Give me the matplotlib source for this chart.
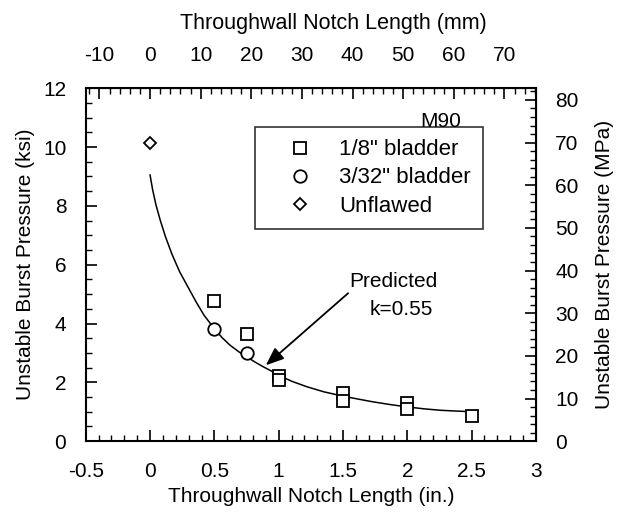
import matplotlib
matplotlib.use("Agg")
import matplotlib.pyplot as plt
from matplotlib.ticker import MultipleLocator, FixedLocator
import numpy as np

plt.rcParams['font.family'] = ['Liberation Sans', 'DejaVu Sans']
plt.rcParams['axes.unicode_minus'] = False

# Data (inches, ksi)
sq_x = [0.5, 0.75, 1.0, 1.0, 1.5, 1.5, 2.0, 2.0, 2.5]
sq_y = [4.78, 3.66, 2.22, 2.08, 1.63, 1.38, 1.29, 1.10, 0.85]
ci_x = [0.5, 0.75]
ci_y = [3.80, 3.00]
un_x = [0.0]
un_y = [10.15]
# predicted curve (k=0.55)
pr_x = [0.0, 0.02, 0.045, 0.08, 0.12, 0.17, 0.23, 0.30, 0.36, 0.42, 0.49, 0.56, 0.62, 0.69, 0.75, 0.82,
        0.88, 0.95, 1.01, 1.10, 1.22, 1.35, 1.50, 1.62, 1.73, 1.86, 1.99, 2.13, 2.26, 2.40, 2.52]
pr_y = [9.05, 8.55, 8.05, 7.50, 6.95, 6.36, 5.76, 5.20, 4.72, 4.28, 3.88, 3.52, 3.27, 3.04, 2.87, 2.68,
        2.53, 2.37, 2.22, 2.04, 1.85, 1.68, 1.53, 1.43, 1.34, 1.25, 1.17, 1.10, 1.05, 1.02, 1.00]

mm_ticks = [-10, 0, 10, 20, 30, 40, 50, 60, 70]
mpa_ticks = [0, 10, 20, 30, 40, 50, 60, 70, 80]
x_ticks = [-0.5, 0, 0.5, 1, 1.5, 2, 2.5, 3]
x_labels = ['-0.5', '0', '0.5', '1', '1.5', '2', '2.5', '3']

KSI2MPA = 6.894757
FS = 15

fig = plt.figure(figsize=(6.26, 5.13), dpi=100)
ax = fig.add_axes([0.137, 0.140, 0.719, 0.688])

ax.plot(pr_x, pr_y, color='black', lw=1.1)
mk = dict(linestyle='none', markerfacecolor='white', markeredgecolor='black', markeredgewidth=1.3)
ax.plot(sq_x, sq_y, marker='s', markersize=9, label='1/8" bladder', **mk)
ax.plot(ci_x, ci_y, marker='o', markersize=9, label='3/32" bladder', **mk)
ax.plot(un_x, un_y, marker='D', markersize=6, label='Unflawed', **mk)

ax.set_xlim(-0.5, 3)
ax.set_ylim(0, 12)
ax.xaxis.set_minor_locator(MultipleLocator(0.1))
ax.yaxis.set_major_locator(MultipleLocator(2))
ax.yaxis.set_minor_locator(MultipleLocator(0.5))
ax.set_xticks(x_ticks)
ax.set_xticklabels(x_labels)
ax.tick_params(which='major', direction='in', length=8, width=1.2, labelsize=FS)
ax.tick_params(which='minor', direction='in', length=4, width=1.0)
ax.tick_params(axis='x', which='major', pad=15)
ax.tick_params(axis='y', which='major', pad=14)
for s in ax.spines.values():
    s.set_linewidth(1.5)

ax.set_xlabel('Throughwall Notch Length (in.)', fontsize=FS, labelpad=4)
ax.set_ylabel('Unstable Burst Pressure (ksi)', fontsize=FS, labelpad=6)

# top axis (mm)
top = ax.secondary_xaxis('top', functions=(lambda x: x * 25.4, lambda m: m / 25.4))
top.xaxis.set_major_locator(FixedLocator(mm_ticks))
top.xaxis.set_minor_locator(MultipleLocator(2))
top.tick_params(which='major', direction='in', length=8, width=1.2, labelsize=FS, pad=17)
top.tick_params(which='minor', direction='in', length=4, width=1.0)
top.set_xlabel('Throughwall Notch Length (mm)', fontsize=15.5, labelpad=12)
top.xaxis.label.set_x(0.55)

# right axis (MPa)
right = ax.secondary_yaxis('right', functions=(lambda k: k * KSI2MPA, lambda p: p / KSI2MPA))
right.yaxis.set_major_locator(FixedLocator(mpa_ticks))
right.yaxis.set_minor_locator(MultipleLocator(2))
right.tick_params(which='major', direction='in', length=8, width=1.2, labelsize=FS, pad=14)
right.tick_params(which='minor', direction='in', length=4, width=1.0)
right.set_ylabel('Unstable Burst Pressure (MPa)', fontsize=FS, labelpad=12)

leg = ax.legend(loc='upper left', bbox_to_anchor=(0.375, 0.89),
                fontsize=16, frameon=True, fancybox=False, edgecolor='black',
                handlelength=3.0, handletextpad=0.25, borderpad=0.55, labelspacing=0.32,
                borderaxespad=0)
leg.get_frame().set_linewidth(1.2)

ax.text(2.26, 10.88, 'M90', fontsize=FS, ha='center', va='center')
ax.annotate('', xy=(0.9, 2.58), xytext=(1.54, 5.03),
            arrowprops=dict(arrowstyle='-|>,head_length=0.5,head_width=0.2', color='black', lw=1.3,
                            mutation_scale=22, shrinkA=0, shrinkB=0))
ax.text(1.89, 5.42, 'Predicted', fontsize=FS, ha='center', va='center')
ax.text(1.95, 4.49, 'k=0.55', fontsize=FS, ha='center', va='center')

fig.savefig('out.png', dpi=100)
